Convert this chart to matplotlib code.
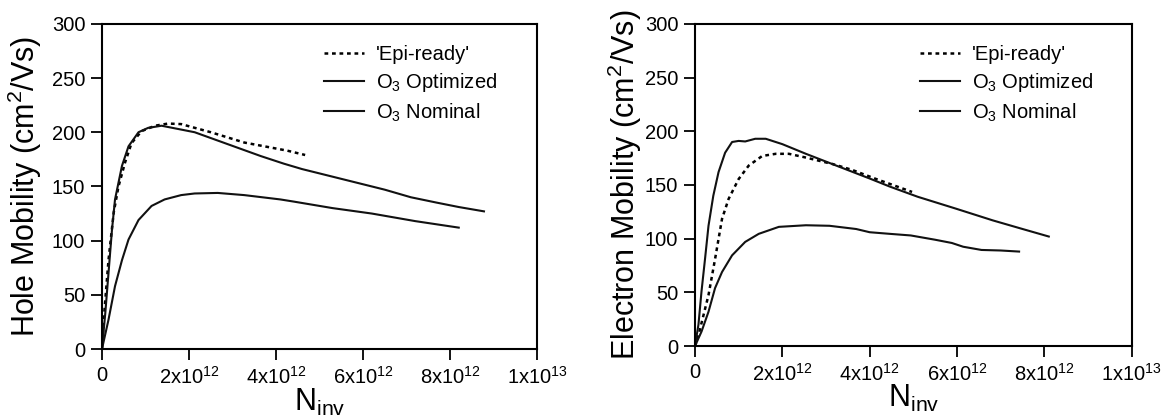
import numpy as np
import matplotlib.pyplot as plt

plt.rcParams['font.family'] = ['Liberation Sans', 'DejaVu Sans']
plt.rcParams['mathtext.fontset'] = 'custom'
plt.rcParams['mathtext.rm'] = 'Liberation Sans'
plt.rcParams['mathtext.it'] = 'Liberation Sans:italic'

# hole mobility (left panel), N_inv in units of 1e12 cm^-2
hole_epi_x = [0, 0.04, 0.15, 0.27, 0.38, 0.53, 0.68, 0.91, 1.22, 1.52, 1.82, 2.5, 3.27, 4.26, 4.67]
hole_epi_y = [0, 27, 82, 126, 150, 172, 190, 201, 206, 208, 207.5, 200, 190.5, 183, 179]
hole_opt_x = [0, 0.076, 0.15, 0.23, 0.30, 0.46, 0.61, 0.84, 1.06, 1.37, 1.75, 2.13, 2.89, 3.65, 4.18,
              4.6, 5.2, 5.8, 6.5, 7.1, 7.7, 8.2, 8.78]
hole_opt_y = [0, 33, 70, 110, 138, 169, 187, 200, 204, 206, 203, 200, 189, 178, 171,
              166, 160, 154, 147, 140, 135, 131, 127]
hole_nom_x = [0, 0.15, 0.3, 0.46, 0.61, 0.84, 1.14, 1.44, 1.82, 2.13, 2.66, 3.27, 4.1, 4.41,
              5.3, 6.2, 7.2, 8.2]
hole_nom_y = [0, 27, 58, 82, 101, 119, 132, 138, 142, 143.5, 144, 142, 138, 136,
              130, 125, 118, 112]

# electron mobility (right panel)
el_epi_x = [0, 0.08, 0.31, 0.46, 0.62, 0.77, 1.0, 1.23, 1.54, 1.85, 2.15, 2.54, 3.15, 3.6, 4.15, 4.46, 4.97]
el_epi_y = [0, 10, 47.5, 81, 118.5, 137, 155.5, 168, 177, 179, 179, 175.5, 169.5, 164, 155.5, 151, 143.5]
el_opt_x = [0, 0.08, 0.15, 0.23, 0.31, 0.42, 0.54, 0.69, 0.85, 1.0, 1.15, 1.38, 1.62, 2.0, 2.54,
            3.3, 4.0, 4.46, 5.1, 5.97, 6.82, 7.5, 8.1]
el_opt_y = [0, 20, 51, 81, 112, 140, 162, 180, 190, 191, 190.5, 193, 193, 188, 179,
            167, 156, 148.5, 139, 128, 117, 109, 102]
el_nom_x = [0, 0.15, 0.31, 0.46, 0.62, 0.85, 1.15, 1.46, 1.92, 2.54, 3.08, 3.69, 4.0, 4.46,
            4.94, 5.5, 5.88, 6.14, 6.56, 7.0, 7.42]
el_nom_y = [0, 13.5, 32, 54, 69, 84.5, 97, 104.5, 111, 112.5, 112, 109, 106, 104.5,
            103, 99, 96, 92.5, 89.5, 89, 88]

labels = ["'Epi-ready'", "O$_3$ Optimized", "O$_3$ Nominal"]
xticks = [0, 2e12, 4e12, 6e12, 8e12, 1e13]
xticklabels = ['0', '2x10$^{12}$', '4x10$^{12}$', '6x10$^{12}$', '8x10$^{12}$', '1x10$^{13}$']
yticks = [0, 50, 100, 150, 200, 250, 300]

fig = plt.figure(figsize=(11.68, 4.18), dpi=100)
ax1 = fig.add_axes([0.0873, 0.165, 0.3725, 0.778])
ax2 = fig.add_axes([0.595, 0.172, 0.374, 0.771])

panels = [
    (ax1, hole_epi_x, hole_epi_y, hole_opt_x, hole_opt_y, hole_nom_x, hole_nom_y,
     'Hole Mobility (cm$^2$/Vs)', -0.133, 0.487),
    (ax2, el_epi_x, el_epi_y, el_opt_x, el_opt_y, el_nom_x, el_nom_y,
     'Electron Mobility (cm$^2$/Vs)', -0.117, 0.492),
]

for ax, ex, ey, ox, oy, nx, ny, ylab, ylx, lgx in panels:
    ax.plot(np.array(ex) * 1e12, ey, color='black', lw=1.8, ls=(0, (1.5, 1.5)), label=labels[0])
    ax.plot(np.array(ox) * 1e12, oy, color='#111111', lw=1.5, label=labels[1])
    ax.plot(np.array(nx) * 1e12, ny, color='#111111', lw=1.5, label=labels[2])
    ax.set_xlim(0, 1e13)
    ax.set_ylim(0, 300)
    ax.set_xticks(xticks)
    ax.set_xticklabels(xticklabels)
    ax.set_yticks(yticks)
    ax.tick_params(direction='out', length=8, width=1.3, labelsize=14.5, pad=4)
    for s in ax.spines.values():
        s.set_linewidth(1.5)
    ax.set_ylabel(ylab, fontsize=22)
    ax.yaxis.set_label_coords(ylx, 0.5)
    ax.set_xlabel('N$_{\\mathrm{inv}}$', fontsize=22)
    ax.xaxis.set_label_coords(0.5, -0.115)
    ax.legend(loc='upper left', bbox_to_anchor=(lgx, 0.965), frameon=False, fontsize=14.5,
              borderpad=0, handlelength=2.0, handletextpad=0.6, labelspacing=0.35)

fig.savefig('out.png', dpi=100)
